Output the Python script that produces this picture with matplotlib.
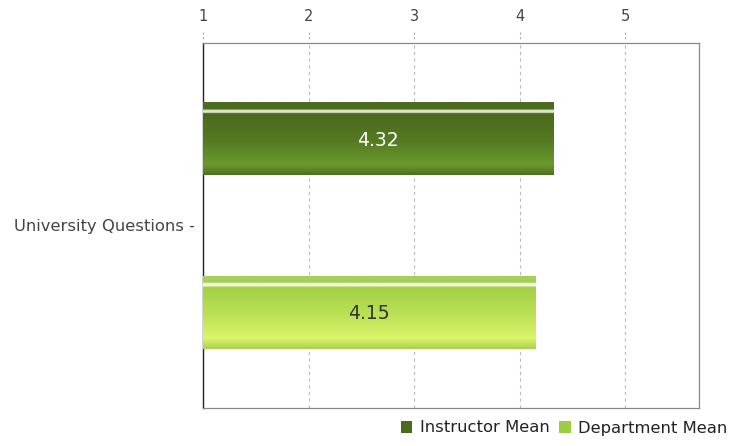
import numpy as np
import matplotlib
matplotlib.use('Agg')
from matplotlib import pyplot as plt
from matplotlib.colors import LinearSegmentedColormap
from matplotlib.patches import Patch

# data
category = 'University Questions'
series_names = ['Instructor Mean', 'Department Mean']
series_values = [4.32, 4.15]
x_ticks = [1, 2, 3, 4, 5]

# styling
legend_colors = ['#4a6b1e', '#9ccc40']
text_colors = ['white', '#333333']
# vertical gradient stops, top -> bottom
gradients = [
    [(0.0, '#4b6c1f'), (0.11, '#4b6c1f'), (0.12, '#dde6cc'), (0.155, '#dde6cc'),
     (0.165, '#4a6a1c'), (0.55, '#567a22'), (0.86, '#6b9a2c'), (1.0, '#4e6f1f')],
    [(0.0, '#a6cf58'), (0.10, '#a6cf58'), (0.11, '#f2f9dc'), (0.15, '#f2f9dc'),
     (0.16, '#a2d046'), (0.55, '#bce257'), (0.86, '#dcf46a'), (1.0, '#a8d050')],
]

fig = plt.figure(figsize=(7.34, 4.46), dpi=100)
ax = fig.add_axes([203 / 734, 38 / 446, 496 / 734, 365 / 446])

offsets = [-0.25, 0.25]
bar_h = 0.211

for i in range(len(series_values)):
    val = series_values[i]
    yc = offsets[i]
    bars = ax.barh(yc, val - 1, left=1, height=bar_h, color=legend_colors[i], zorder=2)
    cmap = LinearSegmentedColormap.from_list('g%d' % i, gradients[i])
    grad = np.linspace(0, 1, 256).reshape(-1, 1)
    im = ax.imshow(grad, cmap=cmap, aspect='auto', zorder=3,
                   extent=(1, val, yc + bar_h / 2, yc - bar_h / 2), interpolation='bilinear')
    im.set_clip_path(bars.patches[0])
    ax.text((1 + val) / 2, yc + 0.005, '%.2f' % val, ha='center', va='center',
            color=text_colors[i], fontsize=13.5, zorder=4)

ax.set_xlim(1, 5.7)
ax.set_ylim(0.527, -0.527)

ax.xaxis.tick_top()
ax.set_xticks(x_ticks)
ax.set_xticklabels([str(t) for t in x_ticks])
ax.tick_params(axis='x', length=0, pad=14, labelsize=10.5, labelcolor='#444444')
ax.set_yticks([0])
ax.set_yticklabels([category + ' -'])
ax.tick_params(axis='y', length=0, pad=6, labelsize=11.8, labelcolor='#444444')

# grid and short dashed marks above the frame
for t in x_ticks:
    ax.axvline(t, color='#bbbbbb', linestyle=(0, (3, 3)), linewidth=0.8, zorder=1)
    ax.plot([t, t], [-0.527 - 0.032, -0.527 - 0.008], color='#aaaaaa',
            linestyle=(0, (2, 2)), linewidth=0.8, clip_on=False)

for side in ['top', 'right', 'bottom']:
    ax.spines[side].set_color('#888888')
    ax.spines[side].set_linewidth(0.9)
ax.spines['left'].set_color('#222222')
ax.spines['left'].set_linewidth(1.0)

handles = [Patch(facecolor=legend_colors[i], edgecolor='none', label=series_names[i])
           for i in range(len(series_names))]
fig.legend(handles=handles, loc='center right', bbox_to_anchor=(1.0, 18 / 446),
           ncol=2, frameon=False, fontsize=11.8, handlelength=0.7, handleheight=0.7,
           handletextpad=0.45, columnspacing=0.6, borderaxespad=0.0,
           labelcolor='#222222')

fig.savefig('out.png', dpi=100)
